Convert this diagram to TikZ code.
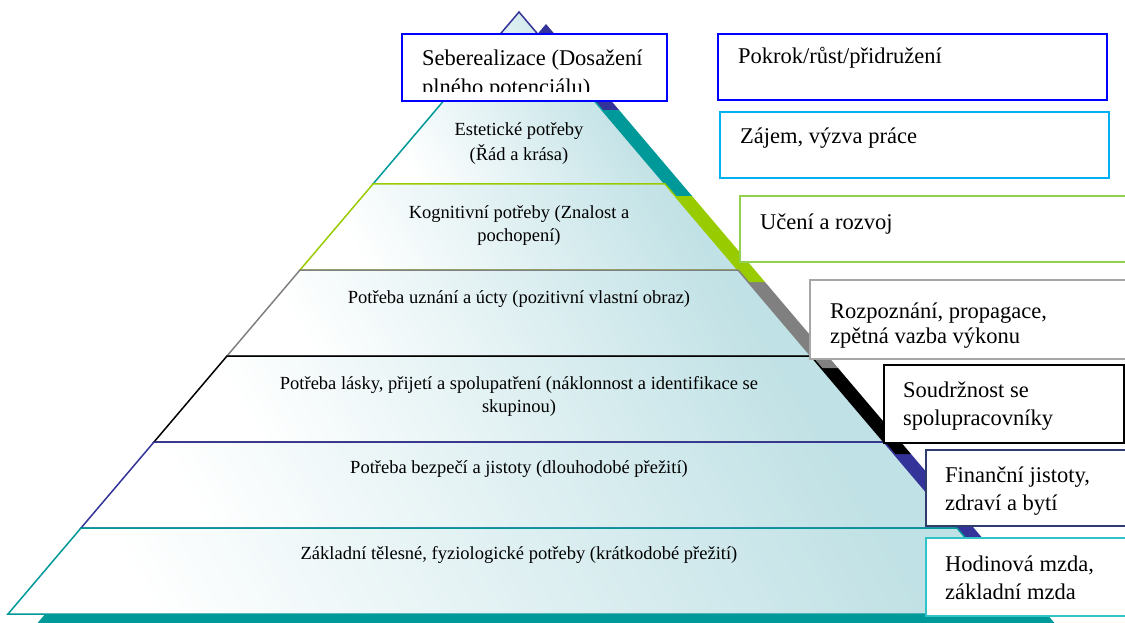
\documentclass[tikz,border=0pt]{standalone}
\usepackage{fontspec}
\setmainfont{Liberation Serif}
\usetikzlibrary{positioning}
\definecolor{navycolor}{RGB}{51,51,153}
\definecolor{tealcolor}{RGB}{0,153,153}
\definecolor{limecolor}{RGB}{153,204,0}
\definecolor{graycolor}{RGB}{128,128,128}
\definecolor{pyrfill}{RGB}{192,225,229}
\definecolor{bluebox}{RGB}{0,0,255}
\definecolor{skybox}{RGB}{0,176,240}
\definecolor{greenbox}{RGB}{146,208,80}
\definecolor{graybox}{RGB}{166,166,166}
\definecolor{navybox}{RGB}{46,61,107}
\definecolor{tealbox}{RGB}{49,195,200}

\begin{document}
\begin{tikzpicture}[x=1pt, y=-1pt,
  layer/.style={draw=#1, line width=1.5pt, top color=pyrfill, bottom color=white, shading angle=-60},
  shadow/.style={fill=#1, shift={(27,12)}},
  infobox/.style={draw=#1, line width=2pt, fill=white, anchor=north west, inner sep=0pt},
  pyrtext/.style={font=\fontsize{18.5}{23.5}\selectfont, align=center, anchor=north, inner sep=0pt},
  boxtext/.style={font=\fontsize{22.5}{28}\selectfont, align=left, anchor=west, inner sep=0pt}]
  \useasboundingbox (0,0) rectangle (1125,623);

  % shadows of the layers
  \fill[shadow=tealcolor] (81,528) -- (8,614) -- (1030,614) -- (957,528) -- cycle;
  \fill[shadow=navycolor] (154,442) -- (81,528) -- (957,528) -- (884,442) -- cycle;
  \fill[shadow=black] (227,356) -- (154,442) -- (884,442) -- (811,356) -- cycle;
  \fill[shadow=graycolor] (300,270) -- (227,356) -- (811,356) -- (738,270) -- cycle;
  \fill[shadow=limecolor] (373,184) -- (300,270) -- (738,270) -- (665,184) -- cycle;
  \fill[shadow=tealcolor] (446,98) -- (373,184) -- (665,184) -- (592,98) -- cycle;
  \fill[shadow=navycolor] (519,12) -- (446,98) -- (592,98) -- cycle;

  % layers of the pyramid
  \draw[layer=navycolor] (519,12) -- (446,98) -- (592,98) -- cycle;
  \draw[layer=tealcolor] (446,98) -- (373,184) -- (665,184) -- (592,98) -- cycle;
  \draw[layer=limecolor] (373,184) -- (300,270) -- (738,270) -- (665,184) -- cycle;
  \draw[layer=graycolor] (300,270) -- (227,356) -- (811,356) -- (738,270) -- cycle;
  \draw[layer=black] (227,356) -- (154,442) -- (884,442) -- (811,356) -- cycle;
  \draw[layer=navycolor] (154,442) -- (81,528) -- (957,528) -- (884,442) -- cycle;
  \draw[layer=tealcolor] (81,528) -- (8,614) -- (1030,614) -- (957,528) -- cycle;

  \node[pyrtext, font=\fontsize{18.5}{25.5}\selectfont] (estet) at (519,122) {Estetické potřeby\\(Řád a krása)};
  \node[pyrtext] (kognit) at (519,205) {Kognitivní potřeby (Znalost a\\pochopení)};
  \node[pyrtext] (uznani) at (519,290) {Potřeba uznání a úcty (pozitivní vlastní obraz)};
  \node[pyrtext] (laska) at (519,376) {Potřeba lásky, přijetí a spolupatření (náklonnost a identifikace se\\skupinou)};
  \node[pyrtext] (bezpeci) at (519,460) {Potřeba bezpečí a jistoty (dlouhodobé přežití)};
  \node[pyrtext] (zaklad) at (519,546) {Základní tělesné, fyziologické potřeby (krátkodobé přežití)};

  % boxes on the right
  \node[infobox=bluebox, minimum width=265, minimum height=67] (selfbox) at (401,33) {};
  \begin{scope}
    \clip (selfbox.north west) rectangle ([yshift=10pt]selfbox.south east);
    \node[boxtext, font=\fontsize{22.5}{29}\selectfont, anchor=north west] (selftext) at (422,50) {Seberealizace (Dosažení\\plného potenciálu)};
  \end{scope}

  \node[infobox=bluebox, minimum width=389, minimum height=66] (pokrok) at (717,33) {};
  \node[infobox=skybox, minimum width=389, minimum height=66] (zajem) at (719,111) {};
  \node[infobox=greenbox, minimum width=400, minimum height=66] (uceni) at (739,195) {};
  \node[infobox=graybox, minimum width=330, minimum height=79] (rozpozn) at (809,279) {};
  \node[infobox=black, minimum width=240, minimum height=78] (soudrz) at (883,364) {};
  \node[infobox=navybox, minimum width=205, minimum height=76] (financ) at (925,449) {};
  \node[infobox=tealbox, minimum width=205, minimum height=78] (hodin) at (925,537) {};

  \node[boxtext] (pokroktext) at (738,58) {Pokrok/růst/přidružení};
  \node[boxtext] (zajemtext) at (740,138) {Zájem, výzva práce};
  \node[boxtext] (ucenitext) at (760,224) {Učení a rozvoj};
  \node[boxtext, font=\fontsize{22.5}{25}\selectfont] (rozpozntext) at (830,326) {Rozpoznání, propagace,\\zpětná vazba výkonu};
  \node[boxtext] (soudrztext) at (903,406) {Soudržnost se\\spolupracovníky};
  \node[boxtext] (financtext) at (945,491) {Finanční jistoty,\\zdraví a bytí};
  \node[boxtext] (hodintext) at (945,578) {Hodinová mzda,\\základní mzda};
\end{tikzpicture}
\end{document}
